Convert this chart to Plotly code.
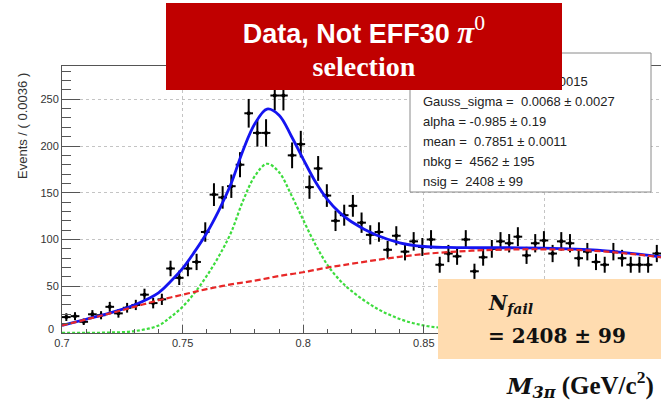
import numpy as np
import plotly.graph_objects as go

# ---------------- data ----------------
bin_lo = 0.7
bin_w = 0.0036
counts = [17, 18, 12, 20, 19, 28, 21, 27, 30, 41, 32, 36,
          69, 59, 69, 76, 108, 148, 145, 157, 180, 235, 214, 214, 254, 254, 190, 202,
          156, 176, 147, 120, 126, 136, 118, 105, 108, 89, 104, 87, 98, 92, 100, 73, 85, 82,
          100, 66, 81, 90, 98, 96, 103, 83, 96, 99, 85, 98, 96, 80, 87, 76, 73, 87, 80,
          73, 73, 73, 85, 78]

curve_x = [0.700, 0.710, 0.720, 0.730, 0.740, 0.745, 0.750, 0.755, 0.760, 0.765,
           0.770, 0.775, 0.780, 0.785, 0.790, 0.795, 0.800, 0.805, 0.810, 0.815,
           0.820, 0.830, 0.840, 0.850, 0.860, 0.870, 0.880, 0.890, 0.900, 0.910,
           0.920, 0.930, 0.940, 0.950]
total_fit = [8.1, 14.7, 21.5, 30, 43, 55, 69, 87, 107, 131,
             159, 195, 224, 239.5, 233, 211, 186, 162, 143, 129,
             119, 105, 96.5, 92.5, 91.5, 91.2, 91.2, 91.1, 90.7, 90,
             88.8, 86.7, 84.1, 81]
signal_fit = [0.1, 0.2, 0.5, 2, 8, 17, 28, 43, 61, 82,
              107, 141, 168, 181, 172, 148, 121, 95, 73, 57,
              45, 27, 15, 8, 5, 3.2, 2.2, 1.6, 1.2, 1.0,
              0.8, 0.7, 0.6, 0.5]
bkg_fit = [8, 14.5, 21, 28, 35, 38, 41, 44, 47, 49.5,
           52, 54, 56, 58.5, 61, 63, 65, 67.5, 70, 72,
           74, 78, 81.5, 84.5, 86.5, 88, 89, 89.5, 89.5, 89,
           88, 86, 83.5, 80.5]

x_tickvals = [0.7, 0.75, 0.8, 0.85, 0.9]
x_ticktext = ["0.7", "0.75", "0.8", "0.85", ""]
y_tickvals = [0, 50, 100, 150, 200, 250]
y_ticktext = ["", "50", "100", "150", "200", "250"]
y_zero_label = "0"

stats_lines = ["Gauss_sigma =\u00a0 0.0068 ± 0.0027",
               "alpha = -0.985 ± 0.19",
               "mean =\u00a0 0.7851 ± 0.0011",
               "nbkg =\u00a0 4562 ± 195",
               "nsig =\u00a0 2408 ± 99"]
stats_hidden_line = "0.0015"

# ---------------- derived ----------------
idx = np.arange(len(counts))
centers = bin_lo + bin_w * (idx + 0.5)
errs = np.sqrt(np.array(counts, dtype=float))

W, H = 661, 401
L, R, T, B = 62, 0, 66, 68
PW = W - L - R
PH = H - T - B


def px_x(px):
    return (px - L) / PW


def px_y(py):
    return (H - B - py) / PH


fig = go.Figure()
fig.add_trace(go.Scatter(
    x=centers, y=counts, mode="markers",
    marker=dict(color="black", size=4),
    error_y=dict(type="data", array=errs, color="black", thickness=2, width=0),
    error_x=dict(type="data", array=[bin_w / 2] * len(counts), color="black", thickness=2, width=0),
))
fig.add_trace(go.Scatter(x=curve_x, y=total_fit, mode="lines",
                         line=dict(color="#1414f0", width=2.8, shape="spline")))
fig.add_trace(go.Scatter(x=curve_x, y=signal_fit, mode="lines",
                         line=dict(color="#3ddc3d", width=2.2, dash="3px,2px", shape="spline")))
fig.add_trace(go.Scatter(x=curve_x, y=bkg_fit, mode="lines",
                         line=dict(color="#e82828", width=2.2, dash="6px,3px", shape="spline")))

axis_font = dict(family="Liberation Sans, Arial", size=11, color="#333")
fig.update_layout(
    width=W, height=H, margin=dict(l=L, r=R, t=T, b=B),
    plot_bgcolor="white", paper_bgcolor="white", showlegend=False,
    xaxis=dict(range=[0.7, 0.7 + PW / 2412.0], tickmode="array",
               tickvals=x_tickvals, ticktext=x_ticktext,
               ticks="inside", ticklen=8, tickcolor="#555", tickfont=axis_font,
               showline=True, linecolor="#555", linewidth=1, mirror=True,
               showgrid=True, gridcolor="#c4c4c4", griddash="dot", gridwidth=1,
               zeroline=False,
               minor=dict(ticks="inside", ticklen=4, tickcolor="#555",
                          tickmode="linear", tick0=0.7, dtick=0.01, showgrid=False)),
    yaxis=dict(range=[0, PH / 0.935], tickmode="array", tickvals=y_tickvals,
               ticktext=y_ticktext,
               ticks="inside", ticklen=18, tickcolor="#555", tickfont=axis_font,
               showline=True, linecolor="#555", linewidth=1, mirror=False,
               showgrid=True, gridcolor="#c4c4c4", griddash="dot", gridwidth=1,
               zeroline=False,
               minor=dict(ticks="inside", ticklen=9, tickcolor="#555",
                          tickmode="linear", tick0=0, dtick=10, showgrid=False)),
)

shapes = []
# stats box
shapes.append(dict(type="rect", xref="paper", yref="paper", layer="above",
                   x0=px_x(410), x1=px_x(651), y0=px_y(192), y1=px_y(53),
                   line=dict(color="#8a8a8a", width=1), fillcolor="white"))
# orange result box
shapes.append(dict(type="rect", xref="paper", yref="paper", layer="above",
                   x0=px_x(438), x1=px_x(662), y0=px_y(359), y1=px_y(279),
                   line=dict(width=0), fillcolor="#FFDCB0"))
fig.update_layout(shapes=shapes)

ann = []
# y tick label "0" (ROOT draws it slightly raised)
ann.append(dict(xref="paper", yref="paper", x=px_x(56), y=px_y(329),
                xanchor="right", yanchor="middle", showarrow=False,
                text=y_zero_label, font=axis_font))

stats_font = dict(family="Liberation Sans, Arial", size=13, color="#222")
ann.append(dict(xref="paper", yref="paper", x=px_x(590), y=px_y(81.5),
                xanchor="right", yanchor="middle", showarrow=False,
                text=stats_hidden_line, font=stats_font))
for i, line in enumerate(stats_lines):
    ann.append(dict(xref="paper", yref="paper", x=px_x(421), y=px_y(101.7 + 20 * i),
                    xanchor="left", yanchor="middle", showarrow=False,
                    text=line, font=stats_font))

# red title box (on top of the stats box)
title_txt = ("<span style=\"font-family:'Liberation Sans';font-size:27px\"><b>Data, Not EFF30 </b></span>"
             "<span style=\"font-family:'Liberation Serif';font-size:31px\"><b><i>π</i></b><sup>0</sup></span>"
             "<br><span style=\"font-family:'Liberation Serif';font-size:28px\"><b>selection</b></span>")
ann.append(dict(xref="paper", yref="paper", x=px_x(166), y=px_y(3),
                xanchor="left", yanchor="top", showarrow=False,
                width=396, height=87, bgcolor="#C00000", borderwidth=0, borderpad=0,
                align="center", valign="middle",
                text=title_txt, font=dict(family="Liberation Serif", size=26, color="white")))

# orange box text
serif_b = dict(family="DejaVu Serif", size=20, color="#111")
ann.append(dict(xref="paper", yref="paper", x=px_x(486), y=px_y(304),
                xanchor="left", yanchor="middle", showarrow=False,
                text="<b><i>N</i></b><sub><b><i>fail</i></b></sub>", font=serif_b))
ann.append(dict(xref="paper", yref="paper", x=px_x(486), y=px_y(336),
                xanchor="left", yanchor="middle", showarrow=False,
                text="<b>= 2408 ± 99</b>", font=serif_b))

# x-axis title
xt_txt = ("<span style=\"font-family:'DejaVu Serif';font-size:23px\"><b><i>M</i></b>"
          "<sub><b><i>3π</i></b></sub></span> <b>(GeV/c<sup>2</sup>)</b>")
ann.append(dict(xref="paper", yref="paper", x=px_x(656), y=px_y(384),
                xanchor="right", yanchor="middle", showarrow=False,
                text=xt_txt,
                font=dict(family="Liberation Serif", size=25, color="#111")))

# y-axis title
ann.append(dict(xref="paper", yref="paper", x=px_x(22.5), y=px_y(126.5),
                xanchor="center", yanchor="middle", showarrow=False, textangle=-90,
                text="Events / ( 0.0036 )",
                font=dict(family="Liberation Sans, Arial", size=13, color="#333")))

fig.update_layout(annotations=ann)
fig.write_html("out.html")
